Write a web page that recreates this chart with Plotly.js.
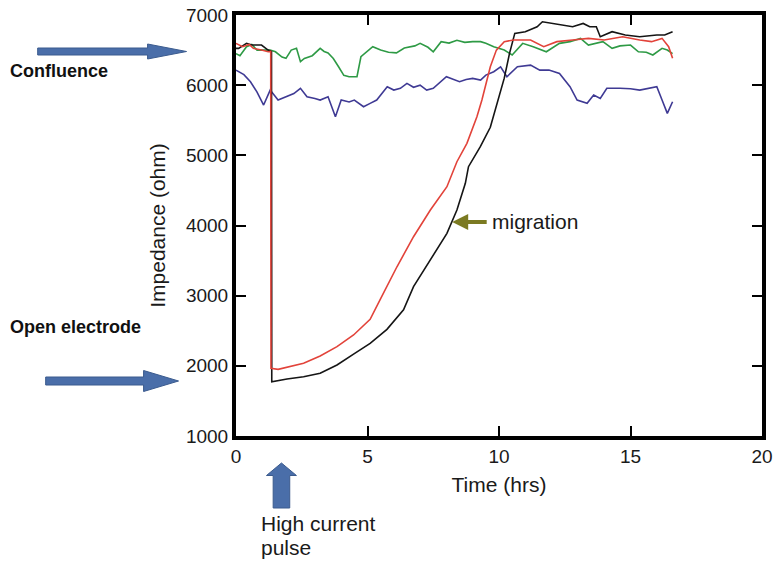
<!DOCTYPE html>
<html><head><meta charset="utf-8">
<script src="https://cdn.plot.ly/plotly-3.0.1.min.js"></script>
<style>html,body{margin:0;padding:0;background:#fff;}#chart{width:773px;height:561px;}</style>
</head><body><div id="chart"></div>
<script>
// Time (hrs) and impedance (ohm)
const greenX = [0,0.15,0.4,0.6,0.8,1.1,1.3,1.5,1.75,1.9,2.1,2.3,2.45,2.6,2.9,3.2,3.35,3.5,3.7,3.9,4.1,4.3,4.6,4.75,5.0,5.2,5.5,5.8,6.1,6.4,6.8,7.0,7.3,7.5,7.8,8.1,8.4,8.7,9.0,9.3,9.5,9.8,10.2,10.5,10.9,11.3,11.8,12.3,12.7,13.1,13.4,13.95,14.3,14.6,15.0,15.3,15.6,15.85,16.2,16.4,16.6];
const greenY = [6450,6420,6548,6580,6500,6500,6500,6476,6400,6382,6500,6525,6335,6380,6420,6525,6480,6460,6380,6262,6140,6120,6120,6405,6480,6548,6500,6470,6460,6530,6560,6596,6540,6476,6620,6600,6640,6610,6620,6620,6596,6548,6500,6430,6596,6548,6476,6596,6620,6667,6572,6620,6525,6560,6572,6476,6470,6430,6525,6500,6450];

const blueX = [0,0.3,0.55,0.8,1.05,1.3,1.6,1.9,2.2,2.45,2.7,3.0,3.2,3.5,3.78,4.0,4.3,4.5,4.85,5.1,5.35,5.75,6.0,6.25,6.5,6.75,7.0,7.25,7.5,8.0,8.25,8.5,8.75,9.0,9.3,9.5,9.8,10.06,10.3,10.7,11.2,11.55,11.9,12.3,12.7,12.97,13.35,13.6,13.85,14.1,14.6,15.0,15.35,16.0,16.2,16.4,16.6];
const blueY = [6215,6150,6049,5900,5717,5930,5788,5835,5880,5955,5835,5810,5788,5835,5550,5788,5760,5788,5693,5740,5788,5978,5930,5955,6025,5970,6000,5930,5955,6120,6080,6049,6080,6097,6073,6144,6191,6262,6120,6262,6286,6215,6215,6168,5978,5788,5741,5859,5812,5955,5955,5950,5930,5978,5788,5598,5764];

const redX = [0,0.25,0.5,0.66,0.97,1.22,1.32,1.33,1.6,1.94,2.57,3.2,3.84,4.47,5.1,5.49,6.12,6.75,7.39,8.02,8.4,8.78,9.16,9.35,9.67,9.9,10.2,10.55,11.2,11.7,12.2,12.8,13.4,14.0,14.7,15.35,15.8,16.2,16.45,16.6];
const redY = [6596,6548,6580,6525,6500,6476,6480,1965,1950,1979,2036,2140,2273,2440,2663,2950,3412,3840,4220,4553,4909,5171,5550,5788,6262,6500,6620,6643,6643,6548,6620,6643,6667,6643,6690,6643,6620,6667,6548,6382];

const blackX = [0,0.1,0.4,0.6,0.97,1.22,1.35,1.36,1.94,2.57,3.2,3.84,4.47,5.1,5.74,6.37,6.75,7.39,8.02,8.4,8.72,8.84,9.29,9.67,9.95,10.2,10.4,10.6,11.0,11.45,11.65,12.1,12.5,12.8,13.2,13.45,13.7,13.85,14.3,14.8,15.35,16.0,16.3,16.6];
const blackY = [6525,6525,6596,6572,6572,6500,6480,1774,1812,1845,1893,2012,2168,2320,2520,2800,3128,3508,3888,4220,4601,4838,5123,5400,5760,6100,6453,6738,6762,6833,6904,6880,6857,6833,6880,6833,6833,6690,6762,6714,6690,6714,6714,6762];

const xTicks = [0,5,10,15,20];
const yTicks = [1000,2000,3000,4000,5000,6000,7000];

const W = 773, H = 561, ML = 235.5, MR = 11, MT = 15, MB = 125;
const pw = W - ML - MR, ph = H - MT - MB;
const PX = px => (px - ML) / pw;
const PY = py => (H - MB - py) / ph;

function rightArrow(x0, xh, tip, cy, t, h) {
  return 'M' + PX(x0) + ',' + PY(cy - t) + ' L' + PX(xh) + ',' + PY(cy - t) + ' L' + PX(xh) + ',' + PY(cy - h) +
    ' L' + PX(tip) + ',' + PY(cy) + ' L' + PX(xh) + ',' + PY(cy + h) + ' L' + PX(xh) + ',' + PY(cy + t) +
    ' L' + PX(x0) + ',' + PY(cy + t) + ' Z';
}
function upArrow(cx, tip, hb, bottom, t, h) {
  return 'M' + PX(cx - t) + ',' + PY(bottom) + ' L' + PX(cx - t) + ',' + PY(hb) + ' L' + PX(cx - h) + ',' + PY(hb) +
    ' L' + PX(cx) + ',' + PY(tip) + ' L' + PX(cx + h) + ',' + PY(hb) + ' L' + PX(cx + t) + ',' + PY(hb) +
    ' L' + PX(cx + t) + ',' + PY(bottom) + ' Z';
}

const font = 'Liberation Sans, Arial, Helvetica, sans-serif';
const arrowFill = '#4a6ea9', arrowLine = '#3b5b8e';

const traces = [
  {x: greenX, y: greenY, mode: 'lines', line: {color: '#2e9a45', width: 1.6}, hoverinfo: 'skip'},
  {x: blueX, y: blueY, mode: 'lines', line: {color: '#3f3a94', width: 1.6}, hoverinfo: 'skip'},
  {x: blackX, y: blackY, mode: 'lines', line: {color: '#151515', width: 1.6}, hoverinfo: 'skip'},
  {x: redX, y: redY, mode: 'lines', line: {color: '#e2433a', width: 1.6}, hoverinfo: 'skip'}
];

const axisCommon = {
  showline: true, linecolor: '#000', linewidth: 4, mirror: 'ticks',
  ticks: 'inside', ticklen: 10, tickwidth: 2, tickcolor: '#000',
  showgrid: false, zeroline: false,
  tickfont: {family: font, size: 19, color: '#1a1a1a'}
};

const layout = {
  width: W, height: H,
  margin: {l: ML, r: MR, t: MT, b: MB},
  paper_bgcolor: '#fff', plot_bgcolor: '#fff',
  showlegend: false,
  font: {family: font, color: '#1a1a1a'},
  xaxis: Object.assign({}, axisCommon, {
    range: [0, 20], tickvals: xTicks, ticktext: xTicks.map(String),
    title: {text: 'Time (hrs)', font: {family: font, size: 21, color: '#1a1a1a'}, standoff: 13}
  }),
  yaxis: Object.assign({}, axisCommon, {
    range: [1000, 7000], tickvals: yTicks, ticktext: yTicks.map(String),
    title: {text: 'Impedance (ohm)', font: {family: font, size: 21, color: '#1a1a1a'}, standoff: 16}
  }),
  shapes: [
    {type: 'path', xref: 'paper', yref: 'paper', path: rightArrow(37, 147, 186, 51.5, 3.5, 7.5), fillcolor: arrowFill, line: {color: arrowLine, width: 1}},
    {type: 'path', xref: 'paper', yref: 'paper', path: rightArrow(45, 143, 178, 381, 4, 10.5), fillcolor: arrowFill, line: {color: arrowLine, width: 1}},
    {type: 'path', xref: 'paper', yref: 'paper', path: upArrow(281, 463, 475.5, 508, 8.3, 15), fillcolor: arrowFill, line: {color: arrowLine, width: 1}}
  ],
  annotations: [
    {x: 8.22, y: 4050, xref: 'x', yref: 'y', text: '', showarrow: true, ax: 36, ay: 0,
     arrowcolor: '#7b7a22', arrowwidth: 4, arrowhead: 2, arrowsize: 0.8},
    {x: 9.67, y: 4050, xref: 'x', yref: 'y', text: 'migration', showarrow: false, xanchor: 'left', yanchor: 'middle',
     font: {family: font, size: 21, color: '#1a1a1a'}},
    {x: PX(7), y: PY(71), xref: 'paper', yref: 'paper', text: '<b>Confluence</b>', showarrow: false, xanchor: 'left', yanchor: 'middle',
     font: {family: font, size: 18, color: '#111'}},
    {x: PX(7), y: PY(327), xref: 'paper', yref: 'paper', text: '<b>Open electrode</b>', showarrow: false, xanchor: 'left', yanchor: 'middle',
     font: {family: font, size: 18, color: '#111'}},
    {x: PX(259), y: PY(523), xref: 'paper', yref: 'paper', text: 'High current', showarrow: false, xanchor: 'left', yanchor: 'middle',
     font: {family: font, size: 21, color: '#1a1a1a'}},
    {x: PX(259), y: PY(547), xref: 'paper', yref: 'paper', text: 'pulse', showarrow: false, xanchor: 'left', yanchor: 'middle',
     font: {family: font, size: 21, color: '#1a1a1a'}}
  ]
};

Plotly.newPlot('chart', traces, layout, {staticPlot: true, displayModeBar: false});
</script>
</body></html>
